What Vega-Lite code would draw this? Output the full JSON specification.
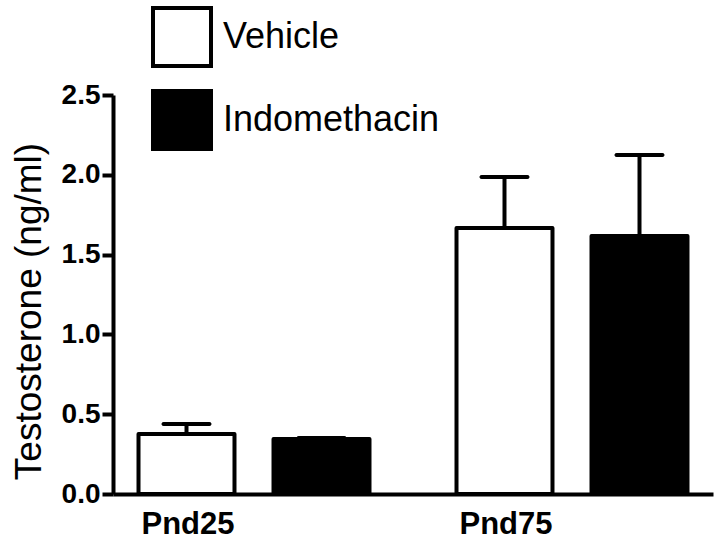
{
  "$schema": "https://vega.github.io/schema/vega-lite/v6.json",
  "width": 600,
  "height": 399,
  "autosize": "none",
  "padding": {"left": 113, "top": 95, "right": 10, "bottom": 48},
  "background": "white",
  "data": {
    "values": [
      {"group": "Pnd25", "treatment": "Vehicle", "value": 0.376, "upper": 0.439},
      {"group": "Pnd25", "treatment": "Indomethacin", "value": 0.345, "upper": 0.351},
      {"group": "Pnd75", "treatment": "Vehicle", "value": 1.667, "upper": 1.986},
      {"group": "Pnd75", "treatment": "Indomethacin", "value": 1.617, "upper": 2.124}
    ]
  },
  "encoding": {
    "x": {
      "field": "group", "type": "nominal",
      "scale": {"paddingInner": 0.15, "paddingOuter": 0.0184},
      "axis": {
        "title": null, "labelAngle": 0, "ticks": false,
        "labelFontSize": 31, "labelFontWeight": "bold", "labelPadding": 15,
        "labelOffset": -66, "domainWidth": 4
      }
    },
    "xOffset": {
      "field": "treatment", "type": "nominal", "sort": ["Vehicle", "Indomethacin"],
      "scale": {"paddingInner": 0.289, "paddingOuter": 0.1456}
    }
  },
  "layer": [
    {
      "mark": {"type": "bar", "stroke": "black", "strokeWidth": 4, "strokeJoin": "round"},
      "encoding": {
        "y": {
          "field": "value", "type": "quantitative",
          "scale": {"domain": [0, 2.5], "nice": false},
          "axis": {
            "values": [0, 0.5, 1, 1.5, 2, 2.5], "format": ".1f",
            "title": "Testosterone (ng/ml)", "titleFontSize": 37, "titleFontWeight": "normal",
            "titlePadding": 13, "titleY": 216,
            "labelFontSize": 28, "labelFontWeight": "bold", "labelPadding": 2,
            "tickSize": 11, "tickWidth": 4, "domainWidth": 4
          }
        },
        "fill": {
          "field": "treatment", "type": "nominal",
          "sort": ["Vehicle", "Indomethacin"],
          "scale": {"domain": ["Vehicle", "Indomethacin"], "range": ["white", "black"]},
          "legend": {
            "title": null, "orient": "none", "legendX": 38, "legendY": -89,
            "symbolType": "square", "symbolSize": 3364, "symbolStrokeWidth": 4,
            "symbolStrokeColor": "black", "symbolOpacity": 1,
            "labelFontSize": 36, "labelOffset": 10, "rowPadding": 9, "padding": 0,
            "labelColor": "black", "labelLimit": 0
          }
        }
      }
    },
    {
      "mark": {"type": "rule", "strokeWidth": 4, "color": "black"},
      "encoding": {
        "y": {"field": "value", "type": "quantitative"},
        "y2": {"field": "upper"}
      }
    },
    {
      "mark": {"type": "tick", "color": "black", "size": 50, "thickness": 4, "cornerRadius": 2, "opacity": 1},
      "encoding": {
        "y": {"field": "upper", "type": "quantitative"}
      }
    }
  ],
  "config": {
    "font": "Liberation Sans",
    "view": {"stroke": null},
    "axis": {
      "grid": false, "domainColor": "black", "tickColor": "black",
      "labelColor": "black", "titleColor": "black", "labelFont": "Liberation Sans", "titleFont": "Liberation Sans"
    },
    "legend": {"labelFont": "Liberation Sans"}
  }
}
